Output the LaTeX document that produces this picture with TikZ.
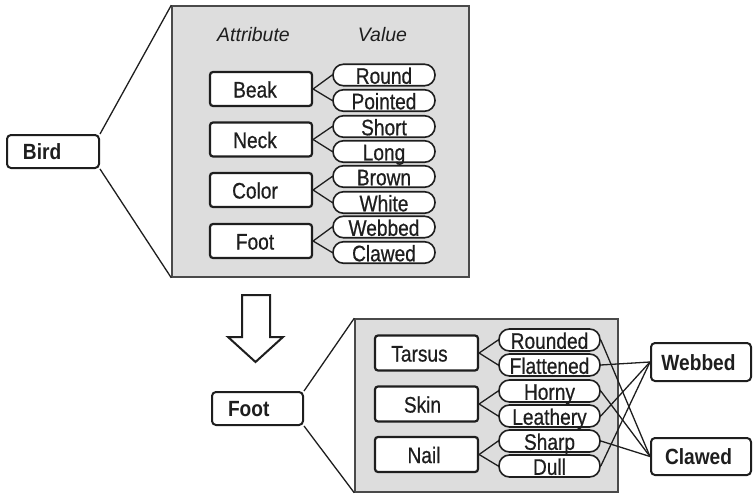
\documentclass[tikz,border=0pt]{standalone}
\usepackage{fontspec}
\setmainfont{Liberation Sans}[FakeStretch=0.85, FakeBold=0.6]
\newfontfamily\keyfont{Liberation Sans}[FakeStretch=0.87]
\newfontfamily\headfont{Liberation Sans}
\definecolor{ink}{HTML}{1E1E1E}
\definecolor{panelgray}{HTML}{DDDDDD}
\definecolor{panelline}{HTML}{4A4A4A}

\begin{document}
\begin{tikzpicture}[x=1pt,y=-1pt,
  panel/.style={draw=panelline, line width=1.5pt, fill=panelgray, inner sep=0pt, rectangle},
  entity/.style={draw=ink, line width=2pt, fill=white, rounded corners=4pt,
    inner xsep=16pt, inner ysep=0pt, align=left, text=ink,
    font=\keyfont\bfseries\fontsize{22}{24}\selectfont, text height=16.8pt, text depth=-1pt},
  target/.style={entity, inner xsep=0pt, align=center, text width=100pt},
  attr/.style={draw=ink, line width=2.2pt, fill=white, rounded corners=3pt,
    minimum width=102pt, minimum height=34pt, inner sep=0pt, text=ink,
    font=\fontsize{22.5}{24}\selectfont, text height=17.1pt, text depth=-1pt},
  val/.style={draw=ink, line width=1.6pt, fill=white, rounded corners=10.5pt,
    minimum width=102pt, minimum height=21.5pt, inner sep=0pt, text=ink,
    font=\fontsize{22.5}{24}\selectfont, text height=17.6pt, text depth=-1.5pt},
  head/.style={inner sep=0pt, text=ink, font=\headfont\itshape\fontsize{19.5}{22}\selectfont},
  link/.style={draw=ink, line width=1.3pt}]

\useasboundingbox (0,0) rectangle (753,495);

% ---------- Bird: attribute / value panel ----------
\node[panel, minimum width=297pt, minimum height=271pt] (toppanel) at (320.5,141.5) {};
\node[entity, text width=60pt, minimum height=33pt] (bird) at (53,151.5) {Bird};
\draw[link] (bird.north east) -- (toppanel.north west);
\draw[link] (bird.south east) -- (toppanel.south west);

\node[head] (attrhead) at (253.5,34.5) {Attribute};
\node[head] (valhead) at (382.5,34.5) {Value};

% attribute names sit a little left of their box centres
\foreach \name/\txt/\y in {beak/Beak/89, neck/Neck/139.5, color/Color/190, foot/Foot/241}
  \node[attr] (\name) at (261,\y) {\txt\hspace*{12pt}};

\foreach \name/\txt/\y in {round/Round/75, pointed/Pointed/100.5,
                            short/Short/126.5, long/Long/151.5,
                            brown/Brown/176.5, white/White/202.5,
                            webbedv/Webbed/227, clawedv/Clawed/252.5}
  \node[val] (\name) at (384,\y) {\txt};

\foreach \a/\v in {beak/round, beak/pointed, neck/short, neck/long,
                   color/brown, color/white, foot/webbedv, foot/clawedv}
  \draw[link] (\a.east) -- (\v.west);

% ---------- refinement arrow ----------
\draw[draw=ink, line width=2pt, fill=white, line join=miter]
  (242,295) -- (270,295) -- (270,337) -- (283,337) -- (255.5,362)
  -- (228,337) -- (242,337) -- cycle;

% ---------- Foot: attribute / value panel ----------
\node[entity, text width=59pt, minimum height=33pt] (footkey) at (257.5,408.5) {Foot};
\node[panel, minimum width=263pt, minimum height=173pt] (botpanel) at (486.5,405.5) {};
\draw[link] (footkey.north east) -- (botpanel.north west);
\draw[link] (footkey.south east) -- (botpanel.south west);

\foreach \name/\txt/\pad/\y in {tarsus/Tarsus/14pt/353, skin/Skin/8pt/404, nail/Nail/5pt/454.5}
  \node[attr, minimum width=103pt, minimum height=35pt] (\name) at (426.5,\y) {\txt\hspace*{\pad}};

\foreach \name/\txt/\y in {rounded/Rounded/340, flattened/Flattened/365,
                            horny/Horny/391, leathery/Leathery/416,
                            sharp/Sharp/441, dull/Dull/466}
  \node[val, minimum width=101pt, minimum height=22pt] (\name) at (549.5,\y) {\txt};

\foreach \a/\v in {tarsus/rounded, tarsus/flattened, skin/horny, skin/leathery,
                   nail/sharp, nail/dull}
  \draw[link] (\a.east) -- (\v.west);

% ---------- foot types ----------
\node[target, minimum height=38pt] (webbed) at (701,362) {Webbed\hspace*{5pt}};
\node[target, minimum height=37pt] (clawed) at (701,456.5) {Clawed\hspace*{5pt}};

\foreach \v in {flattened, leathery, dull}
  \draw[link] (\v.east) -- (webbed.west);
\foreach \v in {rounded, horny, sharp}
  \draw[link] (\v.east) -- (clawed.west);

\end{tikzpicture}
\end{document}
